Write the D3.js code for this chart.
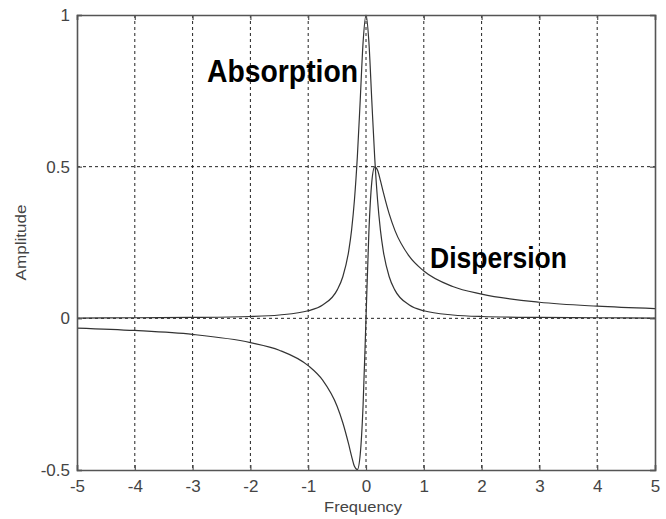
<!DOCTYPE html>
<html>
<head>
<meta charset="utf-8">
<script src="https://cdn.jsdelivr.net/npm/d3@7"></script>
<style>
  body { margin: 0; background: #fff; }
  svg { display: block; }
</style>
</head>
<body>
<svg id="chart" width="666" height="519"></svg>
<script>
/***************************** data *****************************/
let freq = [-5, -4, -3, -2, -1.5, -1, -0.75, -0.5, -0.4, -0.3, -0.25, -0.2, -0.15, -0.1, -0.05, 0,
    0.05, 0.1, 0.15, 0.2, 0.25, 0.3, 0.4, 0.5, 0.75, 1, 1.5, 2, 3, 4, 5]
let absorption = [0.001, 0.002, 0.003, 0.006, 0.011, 0.025, 0.044, 0.093, 0.138, 0.221, 0.29, 0.39, 0.532, 0.719, 0.911, 1,
    0.911, 0.719, 0.532, 0.39, 0.29, 0.221, 0.138, 0.093, 0.044, 0.025, 0.011, 0.006, 0.003, 0.002, 0.001]
let dispersion = [-0.032, -0.04, -0.053, -0.08, -0.105, -0.156, -0.204, -0.29, -0.345, -0.415, -0.454, -0.488, -0.499, -0.449, -0.285, 0,
    0.285, 0.449, 0.499, 0.488, 0.454, 0.415, 0.345, 0.29, 0.204, 0.156, 0.105, 0.08, 0.053, 0.04, 0.032]
let xTicks = [-5, -4, -3, -2, -1, 0, 1, 2, 3, 4, 5]
let yTicks = [-0.5, 0, 0.5, 1]
let xGrid = [-4, -3, -2, -1, 0, 1, 2, 3, 4]
let yGrid = [0, 0.5]

/***************************** drawing *****************************/
const margin = { top: 15, right: 11, bottom: 49, left: 77 }
const width = 666, height = 519
const svg = d3.select("#chart")

let xScale = d3.scaleLinear()
    .domain([-5, 5])
    .range([margin.left, width - margin.right])
let yScale = d3.scaleLinear()
    .domain([-0.5, 1])
    .range([height - margin.bottom, margin.top])

const axisColor = "#555"
const tickFont = "Liberation Sans, Arial, sans-serif"

// dashed grid
svg.append("g").selectAll("line")
    .data(xGrid)
    .enter()
    .append("line")
    .attr("x1", d => xScale(d)).attr("x2", d => xScale(d))
    .attr("y1", yScale(1)).attr("y2", yScale(-0.5))
    .attr("stroke", "#222")
    .attr("stroke-width", 1)
    .attr("stroke-dasharray", "3,3")
svg.append("g").selectAll("line")
    .data(yGrid)
    .enter()
    .append("line")
    .attr("x1", xScale(-5)).attr("x2", xScale(5))
    .attr("y1", d => yScale(d)).attr("y2", d => yScale(d))
    .attr("stroke", "#222")
    .attr("stroke-width", 1)
    .attr("stroke-dasharray", "3,3")

// curves
let lineGenerator = d3.line()
    .x((d, i) => xScale(freq[i]))
    .y(d => yScale(d))
    .curve(d3.curveMonotoneX)

svg.append("path")
    .attr("d", lineGenerator(absorption))
    .attr("fill", "none")
    .attr("stroke", "#333")
    .attr("stroke-width", 1.2)
svg.append("path")
    .attr("d", lineGenerator(dispersion))
    .attr("fill", "none")
    .attr("stroke", "#333")
    .attr("stroke-width", 1.2)

// axes (inward ticks, box)
svg.append("g")
    .attr("transform", "translate(0," + yScale(-0.5) + ")")
    .call(d3.axisBottom(xScale).tickValues(xTicks).tickSize(-5).tickPadding(10).tickFormat(d => String(d)))
svg.append("g")
    .attr("transform", "translate(0," + yScale(1) + ")")
    .call(d3.axisTop(xScale).tickValues(xTicks).tickSize(-5).tickFormat(""))
svg.append("g")
    .attr("transform", "translate(" + xScale(-5) + ",0)")
    .call(d3.axisLeft(yScale).tickValues(yTicks).tickSize(-5).tickPadding(7).tickFormat(d => String(d)))
svg.append("g")
    .attr("transform", "translate(" + xScale(5) + ",0)")
    .call(d3.axisRight(yScale).tickValues(yTicks).tickSize(-5).tickFormat(""))

svg.selectAll(".domain")
    .attr("stroke", axisColor)
    .attr("stroke-width", 1.6)
svg.selectAll(".tick line")
    .attr("stroke", axisColor)
    .attr("stroke-width", 1.2)
svg.selectAll(".tick text")
    .attr("fill", "#444")
    .attr("font-family", tickFont)
    .attr("font-size", "17px")

// axis labels
svg.append("text")
    .attr("x", xScale(-0.05))
    .attr("y", 512)
    .attr("text-anchor", "middle")
    .attr("font-family", tickFont)
    .attr("font-size", "15px")
    .attr("textLength", 78)
    .attr("lengthAdjust", "spacingAndGlyphs")
    .attr("fill", "#444")
    .text("Frequency")
svg.append("text")
    .attr("transform", "translate(26," + yScale(0.25) + ") rotate(-90)")
    .attr("text-anchor", "middle")
    .attr("font-family", tickFont)
    .attr("font-size", "15px")
    .attr("textLength", 76)
    .attr("lengthAdjust", "spacingAndGlyphs")
    .attr("fill", "#444")
    .text("Amplitude")

// curve annotations
svg.append("text")
    .attr("x", xScale(-2.75))
    .attr("y", yScale(0.78))
    .attr("font-family", "Liberation Sans, Arial, sans-serif")
    .attr("font-weight", "bold")
    .attr("font-size", "32px")
    .attr("textLength", 151)
    .attr("lengthAdjust", "spacingAndGlyphs")
    .attr("fill", "#000")
    .text("Absorption")
svg.append("text")
    .attr("x", xScale(1.107))
    .attr("y", yScale(0.165))
    .attr("font-family", "Liberation Sans, Arial, sans-serif")
    .attr("font-weight", "bold")
    .attr("font-size", "30px")
    .attr("textLength", 137)
    .attr("lengthAdjust", "spacingAndGlyphs")
    .attr("fill", "#000")
    .text("Dispersion")
</script>
</body>
</html>
